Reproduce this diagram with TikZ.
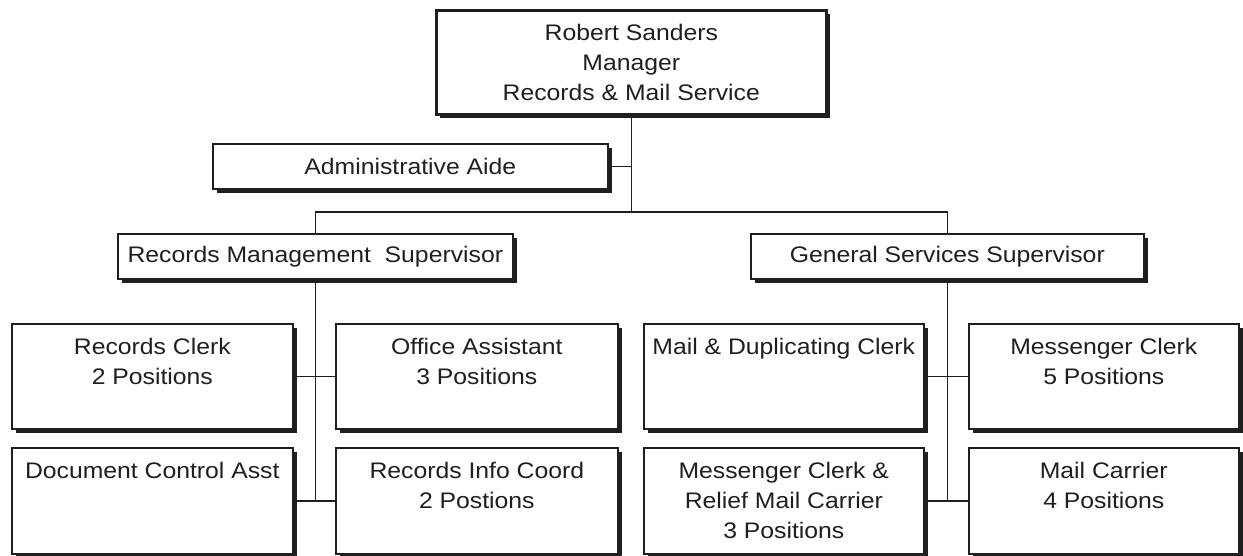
\documentclass[tikz,border=0pt]{standalone}
\usepackage{fontspec}
\setmainfont{Liberation Sans}[FakeStretch=1.1]
\usetikzlibrary{shadows}
\colorlet{ink}{black!88}
\tikzset{
  orgbox/.style={draw=ink, line width=1.6pt, fill=white, rectangle, inner sep=0pt,
    anchor=north west,
    drop shadow={shadow xshift=4pt, shadow yshift=-4pt, fill=ink, opacity=1}},
  toptext/.style={anchor=north, inner sep=0pt, align=center, yshift=-15pt,
    font=\fontsize{22.5}{30}\selectfont, text=ink},
  conn/.style={draw=ink, line width=1.4pt}
}
\newcommand\obox[7]{% name, x1, y1, x2, y2, label text
  \node[orgbox, minimum width=#4pt-#2pt, minimum height=#5pt-#3pt,
        label={[toptext]north:{#6}}] (#1) at (#2,#3) {};}
\begin{document}
\begin{tikzpicture}[x=1pt, y=-1pt]
\useasboundingbox (0,0) rectangle (1243,555);
% top box
\node[orgbox, line width=2.6pt, minimum width=390pt, minimum height=104pt,
      align=center, font=\fontsize{22.5}{30}\selectfont, text=ink]
  (top) at (435,9) {Robert Sanders\\Manager\\Records \& Mail Service};
% admin
\node[orgbox, minimum width=395pt, minimum height=45pt,
      font=\fontsize{22.5}{30}\selectfont, text=ink]
  (admin) at (212,143) {Administrative Aide};
% supervisors
\node[orgbox, minimum width=395pt, minimum height=45pt,
      font=\fontsize{22.5}{30}\selectfont, text=ink]
  (rms) at (117,233) {Records Management\ \ Supervisor};
\node[orgbox, minimum width=393pt, minimum height=45pt,
      font=\fontsize{22.5}{30}\selectfont, text=ink]
  (gss) at (750,233) {General Services Supervisor};
% staff boxes
\obox{rc}{11}{323}{292}{428}{Records Clerk\\2 Positions}{}
\obox{oa}{335}{323}{617}{428}{Office Assistant\\3 Positions}{}
\obox{mdc}{643}{323}{923}{428}{Mail \& Duplicating Clerk}{}
\obox{mc}{968}{323}{1238}{428}{Messenger Clerk\\5 Positions}{}
\obox{dca}{11}{447}{292}{553}{Document Control Asst}{}
\obox{ric}{335}{447}{617}{553}{Records Info Coord\\2 Postions}{}
\obox{mcr}{643}{447}{923}{553}{Messenger Clerk \&\\Relief Mail Carrier\\3 Positions}{}
\obox{mcar}{968}{447}{1238}{553}{Mail Carrier\\4 Positions}{}
% connectors
\coordinate (hub) at (top.south |- 0,212);
\draw[conn] (top.south) -- (hub);
\draw[conn] (admin.east) -- (admin.east -| top.south);
\draw[conn] (rms.north) -- (rms.north |- hub) -- (gss.north |- hub) -- (gss.north);
\coordinate (lb) at (rms.south |- dca.east);
\coordinate (rb) at (gss.south |- mcr.east);
\draw[conn] (rms.south) -- (lb);
\draw[conn] (gss.south) -- (rb);
\draw[conn] (rc.east) -- (oa.west);
\draw[conn] (dca.east) -- (ric.west);
\draw[conn] (mdc.east) -- (mc.west);
\draw[conn] (mcr.east) -- (mcar.west);
\end{tikzpicture}
\end{document}
